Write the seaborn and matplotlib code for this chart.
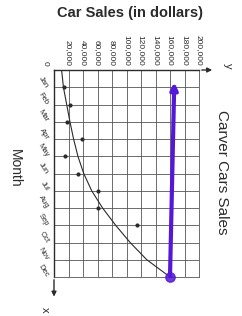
import matplotlib
matplotlib.use("Agg")
import matplotlib.pyplot as plt
import seaborn as sns
import numpy as np
import pandas as pd

months = ["Jan", "Feb", "Mar", "Apr", "May", "Jun", "Jul", "Aug", "Sep", "Oct", "Nov", "Dec"]
point_months = [1, 2, 3, 4, 5, 6, 7, 8, 9, 12]
point_sales = [14000, 22000, 17500, 38000, 15000, 33000, 60000, 60000, 114000, 160000]
trend_months = [0, 1, 2, 3, 4, 5, 6, 7, 8, 9, 10, 11, 12]
trend_sales = [10500, 13000, 17500, 22000, 27000, 33000, 41000, 52000, 67000, 85000, 105000, 128000, 160000]
sales_ticks = [20000, 40000, 60000, 80000, 100000, 120000, 140000, 160000, 180000, 200000]
sales_labels = ["20,000", "40,000", "60,000", "80,000", "100,000", "120,000",
                "140,000", "160,000", "180,000", "200,000"]
arrow_start = (160000, 12)   # hand drawn purple arrow, Dec point up to top
arrow_end = (166000, 0.55)

sns.set_style("white")
plt.rcParams['font.family'] = ['Liberation Sans', 'DejaVu Sans']

ink = "#2b2b2b"
grid_c = "#555555"
purple = "#5518d8"

fig = plt.figure(figsize=(2.42, 3.16), dpi=100)
ax = fig.add_axes([54 / 242, 1 - 277 / 316, 145 / 242, 207 / 316])

points = pd.DataFrame({"month": point_months, "sales": point_sales})
trend = pd.DataFrame({"month": trend_months, "sales": trend_sales})

sns.lineplot(data=trend, x="sales", y="month", sort=False, color=ink, lw=0.8, ax=ax)
sns.scatterplot(data=points, x="sales", y="month", color=ink, s=9, linewidth=0, ax=ax, zorder=3)

# purple hand annotation
ax.annotate("", xy=arrow_end, xytext=arrow_start,
            arrowprops=dict(arrowstyle="->", color=purple, lw=3, mutation_scale=10),
            annotation_clip=False, zorder=4)
ax.scatter([arrow_start[0]], [arrow_start[1]], s=45, facecolor=purple, edgecolor=purple,
           alpha=0.85, zorder=5, clip_on=False)

ax.set_xlim(0, 200000)
ax.set_ylim(12, 0)
ax.set_xticks([0] + sales_ticks)
ax.set_xticklabels([""] + sales_labels, rotation=-90, fontsize=6, color=ink)
ax.set_yticks(trend_months)
ax.set_yticklabels([""] + months, rotation=-58, fontsize=5.5, color=ink,
                   rotation_mode="anchor", ha="right", va="center")
ax.xaxis.tick_top()
ax.tick_params(axis="x", length=0, pad=3)
ax.tick_params(axis="y", length=0, pad=5)
ax.grid(True, color=grid_c, lw=0.6)
ax.set_xlabel("")
ax.set_ylabel("")
for side in ["right", "bottom"]:
    ax.spines[side].set_color(grid_c)
    ax.spines[side].set_linewidth(0.6)
for side in ["left", "top"]:
    ax.spines[side].set_color(ink)
    ax.spines[side].set_linewidth(1.0)

# axis arrows
ax.annotate("", xy=(0, 13.3), xytext=(0, 12), annotation_clip=False,
            arrowprops=dict(arrowstyle="-|>", color=ink, lw=1.0, mutation_scale=7))
ax.annotate("", xy=(222000, 0), xytext=(200000, 0), annotation_clip=False,
            arrowprops=dict(arrowstyle="-|>", color=ink, lw=1.0, mutation_scale=7))

fig.text(45 / 242, 1 - 63 / 316, "0", rotation=-90, fontsize=6, color=ink, ha="center", va="center")
fig.text(45 / 242, 1 - 310 / 316, "x", rotation=-90, fontsize=8, color=ink, ha="center", va="center")
fig.text(228 / 242, 1 - 66 / 316, "y", rotation=-90, fontsize=8, color=ink, ha="center", va="center")

fig.text(130 / 242, 1 - 13 / 316, "Car Sales (in dollars)", fontsize=10.5, color=ink,
         ha="center", va="center", fontweight="semibold")
fig.text(222 / 242, 1 - 172 / 316, "Carver Cars Sales", rotation=-90, fontsize=11, color=ink,
         ha="center", va="center")
fig.text(15 / 242, 1 - 168 / 316, "Month", rotation=-90, fontsize=10, color=ink,
         ha="center", va="center")

fig.savefig("out.png", dpi=100)
